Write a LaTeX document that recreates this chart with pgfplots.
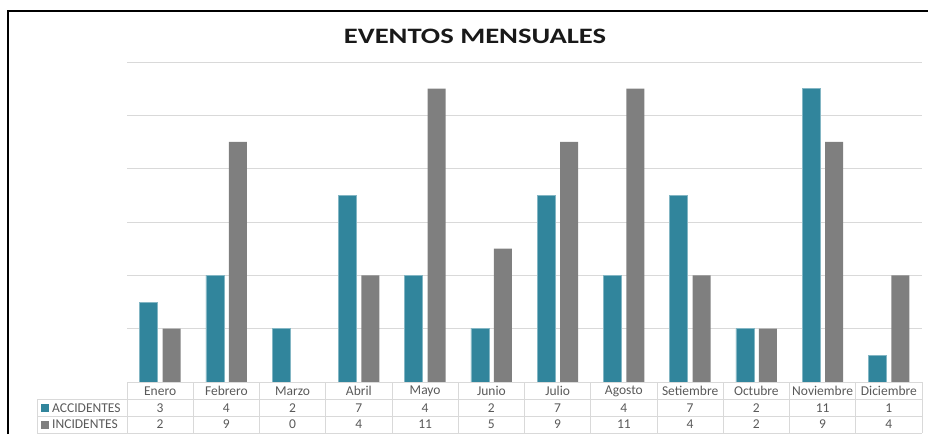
\documentclass[border=0pt]{standalone}
\usepackage{pgfplots}
\pgfplotsset{compat=1.18}
\usepackage{fontspec}
\setmainfont{Carlito}
\definecolor{acc}{HTML}{31859C}
\definecolor{inc}{HTML}{7F7F7F}
\definecolor{gridc}{HTML}{D9D9D9}
\definecolor{txt}{HTML}{595959}
\begin{document}
\begin{tikzpicture}[x=1pt,y=1pt]
\path[use as bounding box] (0,0) rectangle (928,434);
% outer frame (cropped on right and bottom)
\draw[line width=2pt] (8,0) -- (8,423) -- (928,423);
\node[font=\fontsize{22}{24}\selectfont\bfseries, text=black!90] at (475,398) {\scalebox{1.3}[1]{EVENTOS MENSUALES}};
\begin{axis}[
  at={(127pt,52pt)}, anchor=south west,
  scale only axis, width=795pt, height=320pt,
  xmin=-0.5, xmax=11.5, ymin=0, ymax=12,
  ybar=5pt, bar width=18pt,
  axis line style={draw=none},
  ytick={2,4,...,12}, yticklabels={},
  ymajorgrids, grid style={gridc, line width=0.8pt},
  major tick length=0pt,
  xtick={0,...,11},
  xticklabels={Enero,Febrero,Marzo,Abril,Mayo,Junio,Julio,Agosto,Setiembre,Octubre,Noviembre,Diciembre},
  xticklabel style={anchor=center, yshift=-9pt, font=\fontsize{13.5}{14}\selectfont, text=txt},
  clip=false,
]
\addplot[fill=acc, draw=acc!60!white, line width=0.4pt] coordinates {
  (0,3) (1,4) (2,2) (3,7) (4,4) (5,2) (6,7) (7,4) (8,7) (9,2) (10,11) (11,1)};
\addplot[fill=inc, draw=none] coordinates {
  (0,2) (1,9) (2,0) (3,4) (4,11) (5,5) (6,9) (7,11) (8,4) (9,2) (10,9) (11,4)};
\end{axis}
% data table
\draw[gridc, line width=0.8pt] (127,52) -- (922,52);
\draw[gridc, line width=0.8pt] (37,34.5) -- (922,34.5);
\draw[gridc, line width=0.8pt] (37,17.5) -- (922,17.5);
\draw[gridc, line width=0.8pt] (37,1) -- (922,1);
\draw[gridc, line width=0.8pt] (37,34.5) -- (37,1);
\foreach \k in {0,...,12}{
  \draw[gridc, line width=0.8pt] ({127+66.25*\k},52) -- ({127+66.25*\k},1);
}
\fill[acc] (41,22.5) rectangle (49,30);
\fill[inc] (41,5.5) rectangle (49,13);
\node[anchor=west, inner sep=0pt, font=\fontsize{13.5}{14}\selectfont, text=txt] at (52,26) {ACCIDENTES};
\node[anchor=west, inner sep=0pt, font=\fontsize{13.5}{14}\selectfont, text=txt] at (52,9.5) {INCIDENTES};
\foreach \v [count=\i from 0] in {3,4,2,7,4,2,7,4,7,2,11,1}{
  \node[font=\fontsize{13.5}{14}\selectfont, text=txt] at ({127+66.25*(\i+0.5)},26) {\v};
}
\foreach \v [count=\i from 0] in {2,9,0,4,11,5,9,11,4,2,9,4}{
  \node[font=\fontsize{13.5}{14}\selectfont, text=txt] at ({127+66.25*(\i+0.5)},9.5) {\v};
}
\end{tikzpicture}
\end{document}
